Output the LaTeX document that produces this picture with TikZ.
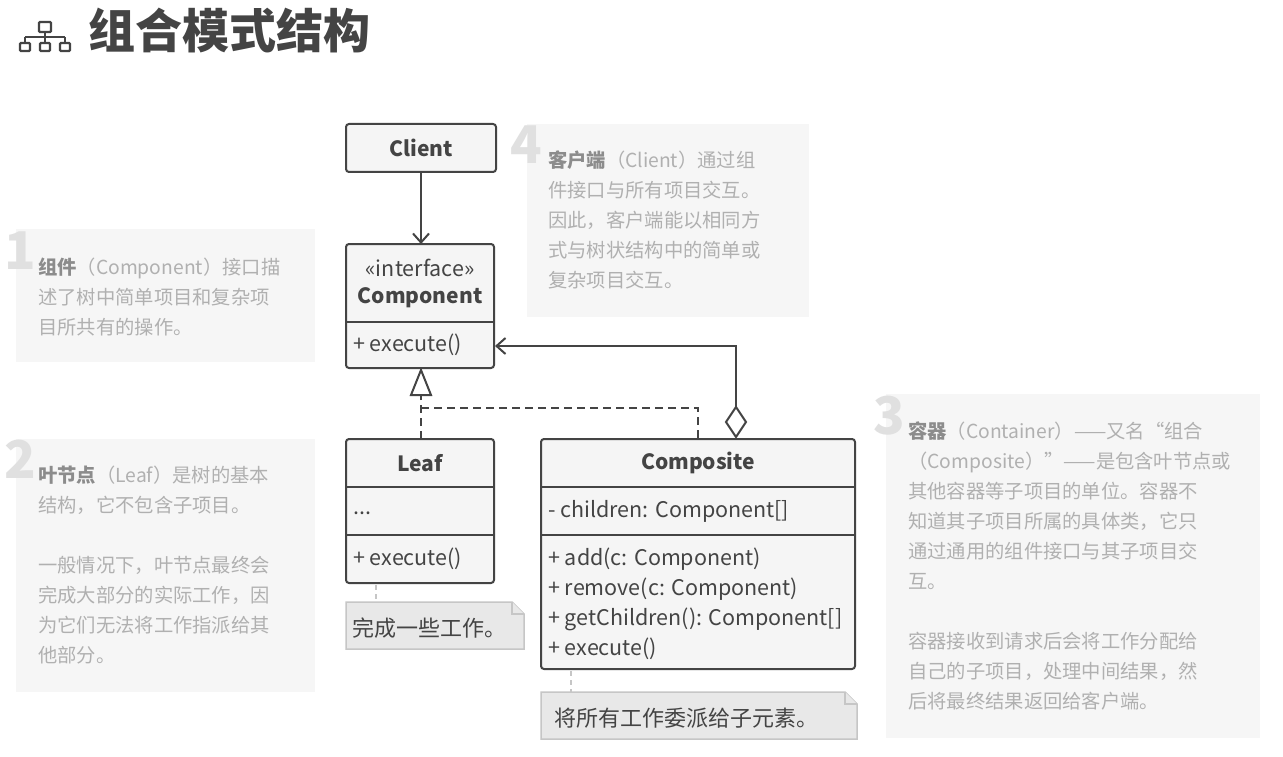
\documentclass[tikz,border=0pt]{standalone}
\usepackage{fontspec}
\setmainfont{Noto Sans CJK SC}
\usetikzlibrary{arrows.meta}
\definecolor{ln}{HTML}{444444}
\definecolor{bx}{HTML}{F5F5F5}
\definecolor{pn}{HTML}{F6F6F6}
\definecolor{tx}{HTML}{B0B0B0}
\definecolor{hd}{HTML}{8C8C8C}
\definecolor{nf}{HTML}{E8E8E8}
\definecolor{nb}{HTML}{C6C6C6}
\begin{document}
\begin{tikzpicture}[x=1pt,y=-1pt,
 cls/.style={draw=ln,fill=bx,line width=2pt,rounded corners=3pt},
 sep/.style={draw=ln,line width=2pt},
 ct/.style={font=\fontsize{21.5}{24}\selectfont,text=ln,inner sep=0pt},
 cb/.style={font=\fontsize{21}{24}\selectfont\bfseries,text=ln,inner sep=0pt},
 panel/.style={fill=pn,draw=none},
 ptext/.style={font=\fontsize{19.3}{30}\selectfont,text=tx,align=left,anchor=north west,inner sep=0pt},
 bignum/.style={font=\fontsize{52}{52}\selectfont\bfseries,text=black!12,inner sep=0pt},
 conn/.style={draw=ln,line width=2pt},
 note/.style={fill=nf,draw=nb,line width=1.5pt},
 ntext/.style={font=\fontsize{22}{24}\selectfont,text=ln,anchor=west,inner sep=0pt},
]
\useasboundingbox (0,0) rectangle (1283,757);
\fill[white] (0,0) rectangle (1283,757);
% title
\begin{scope}[draw=ln,line width=2.4pt,rounded corners=1pt]
\draw (39,22) rectangle (51,32);
\draw (45,32)--(45,37) (25,37)--(65,37) (25,37)--(25,42) (45,37)--(45,42) (65,37)--(65,42);
\draw (20,43) rectangle (30,51);
\draw (40,43) rectangle (50,51);
\draw (60,43) rectangle (70,51);
\end{scope}
\node[font=\fontsize{47}{50}\selectfont\bfseries,text=ln,anchor=west,inner sep=0pt] (title) at (88,31) {组合模式结构};
% panels
\fill[panel] (16,229) rectangle (315,362);
\node[bignum,anchor=north west] (n1) at (4,232) {1};
\node[ptext] (t1) at (38,258) {\textcolor{hd}{\bfseries 组件}（Component）接口描\\述了树中简单项目和复杂项\\目所共有的操作。};
\fill[panel] (16,439) rectangle (315,692);
\node[bignum,anchor=north west] (n2) at (4,440) {2};
\node[ptext] (t2) at (38,466) {\textcolor{hd}{\bfseries 叶节点}（Leaf）是树的基本\\结构，它不包含子项目。\\[30pt]一般情况下，叶节点最终会\\完成大部分的实际工作，因\\为它们无法将工作指派给其\\他部分。};
\fill[panel] (527,124) rectangle (809,317);
\node[bignum,anchor=north west] (n4) at (510,126) {4};
\node[ptext] (t4) at (548,151) {\textcolor{hd}{\bfseries 客户端}（Client）通过组\\件接口与所有项目交互。\\因此，客户端能以相同方\\式与树状结构中的简单或\\复杂项目交互。};
\fill[panel] (886,394) rectangle (1260,738);
\node[bignum,anchor=north west] (n3) at (873,396) {3};
\node[ptext] (t3) at (908,422) {\textcolor{hd}{\bfseries 容器}（Container）——又名“组合\\（Composite）”——是包含叶节点或\\其他容器等子项目的单位。容器不\\知道其子项目所属的具体类，它只\\通过通用的组件接口与其子项目交\\互。\\[30pt]容器接收到请求后会将工作分配给\\自己的子项目，处理中间结果，然\\后将最终结果返回给客户端。};
% classes
\path[cls] (346,124) rectangle (496,172);
\node[cb] (client) at (421,148) {Client};
\coordinate (clientB) at (421,172);
\path[cls] (346,244) rectangle (494,368);
\draw[sep] (346,322)--(494,322);
\node[ct] (iface) at (420,268) {«interface»};
\node[cb] (comp) at (420,298) {Component};
\node[ct,anchor=west] (cexe) at (353,345) {+ execute()};
\coordinate (compT) at (421,244);
\coordinate (compR) at (495,346);
\path[cls] (346,439) rectangle (494,583);
\draw[sep] (346,487)--(494,487) (346,535)--(494,535);
\node[cb] (leaf) at (420,463) {Leaf};
\node[ct,anchor=west] (ldots) at (353,513) {...};
\node[ct,anchor=west] (lexe) at (353,559) {+ execute()};
\coordinate (leafT) at (421,439);
\coordinate (leafB) at (376,585);
\path[cls] (541,439) rectangle (855,669);
\draw[sep] (541,487)--(855,487) (541,535)--(855,535);
\node[cb] (compo) at (698,463) {Composite};
\node[ct,anchor=west] (ch) at (548,511) {- children: Component[]};
\node[ct,anchor=west] (m1) at (548,559) {+ add(c: Component)};
\node[ct,anchor=west] (m2) at (548,589) {+ remove(c: Component)};
\node[ct,anchor=west] (m3) at (548,619) {+ getChildren(): Component[]};
\node[ct,anchor=west] (m4) at (548,649) {+ execute()};
\coordinate (compoT) at (698,439);
\coordinate (compoB) at (571,671);
% connectors
\draw[conn,-{Straight Barb[length=9pt,width=16pt,line width=2pt]}] (clientB) -- (compT);
\draw[conn,dashed,dash pattern=on 8pt off 5pt] (leafT) -- (421,395) (421,408) -| (compoT);
\draw[conn,fill=white] (421,370) -- (411,395) -- (431,395) -- cycle;
\draw[conn,-{Straight Barb[length=9pt,width=16pt,line width=2pt]}] (736,407) |- (compR);
\draw[conn,fill=white] (736,407) -- (746,422) -- (736,437) -- (726,422) -- cycle;
% notes
\draw[note] (346,602) -- (512,602) -- (524,614) -- (524,649) -- (346,649) -- cycle;
\draw[note] (512,602) -- (512,614) -- (524,614);
\node[ntext] (note1) at (352,628) {完成一些工作。};
\draw[draw=nb,line width=2pt,dashed,dash pattern=on 5pt off 4pt] (leafB) -- (376,602);
\draw[note] (541,692) -- (845,692) -- (857,704) -- (857,739) -- (541,739) -- cycle;
\draw[note] (845,692) -- (845,704) -- (857,704);
\node[ntext] (note2) at (554,718) {将所有工作委派给子元素。};
\draw[draw=nb,line width=2pt,dashed,dash pattern=on 5pt off 4pt] (compoB) -- (571,692);
\end{tikzpicture}
\end{document}
